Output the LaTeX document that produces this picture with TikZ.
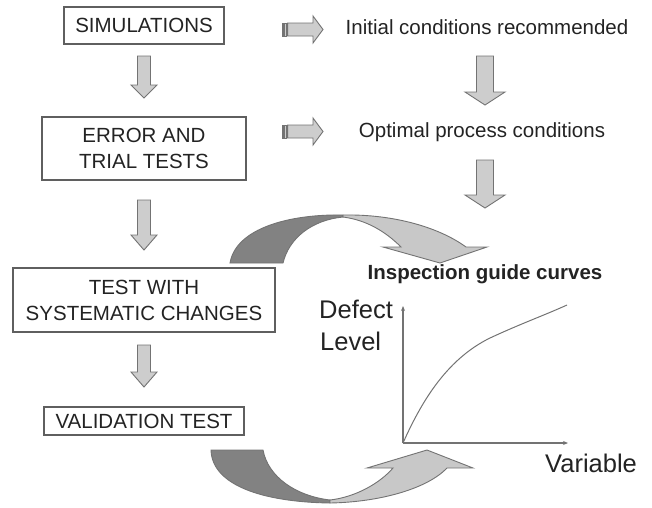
\documentclass[tikz,border=0pt]{standalone}
\usepackage{fontspec}
\setmainfont{Liberation Sans}
\usetikzlibrary{arrows.meta}

\definecolor{boxline}{RGB}{95,95,95}
\definecolor{arrowfill}{RGB}{205,205,205}
\definecolor{arrowline}{RGB}{115,115,115}
\definecolor{darkband}{RGB}{130,130,130}
\definecolor{lightband}{RGB}{200,200,200}
\definecolor{inkgray}{RGB}{35,35,35}

% vertical block arrow: centre x, top, head start, tip, half shaft, half head
\newcommand\blockdown[6]{%
  \draw[blockarrow] ({#1-#5},#2) -- ({#1+#5},#2) -- ({#1+#5},#3) -- ({#1+#6},#3)
    -- (#1,#4) -- ({#1-#6},#3) -- ({#1-#5},#3) -- cycle;}
% small striped block arrow pointing right: centre y
\newcommand\stripedright[1]{%
  \draw[blockarrow] (282,{#1-6.5}) rectangle (283.6,{#1+6.5});
  \draw[blockarrow] (284.8,{#1-6.5}) rectangle (286.4,{#1+6.5});
  \draw[blockarrow] (287.6,{#1-6.5}) -- (313,{#1-6.5}) -- (313,{#1-13.5}) -- (323,#1)
    -- (313,{#1+13.5}) -- (313,{#1+6.5}) -- (287.6,{#1+6.5}) -- cycle;}

\tikzset{
  stagebox/.style={draw=boxline, line width=1.1pt, fill=white, inner sep=0pt,
    align=center, text=inkgray, font=\fontsize{20.5}{26}\selectfont},
  blockarrow/.style={fill=arrowfill, draw=arrowline, line width=0.9pt, line join=miter},
  plain/.style={text=inkgray, inner sep=0pt, font=\fontsize{20.5}{26}\selectfont},
  axislabel/.style={text=inkgray, inner sep=0pt, anchor=base west, font=\fontsize{25.5}{32}\selectfont},
  axis/.style={draw=arrowline, line width=1.1pt, -{Stealth[length=5pt,width=4pt]}},
}

\begin{document}
\begin{tikzpicture}[x=1pt, y=-1pt]
\useasboundingbox (0,0) rectangle (652,507);

% process stages
\node[stagebox, minimum width=160pt, minimum height=37pt] (sim) at (144,25.5) {SIMULATIONS};
\node[stagebox, minimum width=204pt, minimum height=63pt] (err) at (144,148.5) {ERROR AND\\TRIAL TESTS};
\node[stagebox, minimum width=262pt, minimum height=64pt] (sys) at (144,300) {TEST WITH\\SYSTEMATIC CHANGES};
\node[stagebox, minimum width=200pt, minimum height=28pt] (val) at (144,421) {VALIDATION TEST};

% flow between stages
\blockdown{144}{56}{85}{98}{6.5}{13}
\blockdown{144}{200}{235}{250}{6.5}{13}
\blockdown{144}{345}{372}{387}{6.5}{13}

% outcomes
\node[plain] (init) at (487,27) {Initial conditions recommended};
\node[plain] (opt) at (482,132) {Optimal process conditions};
\stripedright{29.5}
\stripedright{131.5}
\blockdown{485}{56}{92}{105}{8.5}{20}
\blockdown{485}{160}{195}{208}{8.5}{20}

% upper curved arrow
\fill[darkband, draw=arrowline, line width=0.9pt]
  (230,263) .. controls (236,228) and (290,214) .. (343,215)
  -- (343,217) .. controls (312,220) and (289,238) .. (283,263) -- cycle;
\fill[lightband, draw=arrowline, line width=0.9pt, line join=miter]
  (343,215) .. controls (395,214) and (440,228) .. (466,247)
  -- (487,247) -- (440,263) -- (383,247) -- (401,247)
  .. controls (385,231) and (366,220) .. (343,217) -- cycle;

% lower curved arrow
\fill[darkband, draw=arrowline, line width=0.9pt]
  (211,450) -- (263,450) .. controls (268,477) and (296,496) .. (330,500)
  -- (330,503) .. controls (262,502) and (212,485) .. (211,450) -- cycle;
\fill[lightband, draw=arrowline, line width=0.9pt, line join=miter]
  (330,503) .. controls (382,502) and (428,488) .. (447,468)
  -- (473,468) -- (427,450) -- (367,468) -- (393,468)
  .. controls (380,483) and (356,497) .. (330,500) -- cycle;

% guide curve plot
\node[text=inkgray, inner sep=0pt, font=\bfseries\fontsize{20.5}{26}\selectfont] (guide) at (485,274.5) {Inspection guide curves};
\coordinate (O) at (403,443);
\coordinate (ytop) at (403,306);
\coordinate (xend) at (568,443);
\coordinate (cend) at (567,305);
\draw[axis] (O) -- (ytop);
\draw[axis] (O) -- (xend);
\draw[draw=arrowline, line width=1pt]
  (O) .. controls (420,405) and (445,360) .. (490,338)
  .. controls (520,324) and (545,315) .. (cend);
\node[axislabel] (defect) at (319,318) {Defect};
\node[axislabel] (level) at (320,350) {Level};
\node[axislabel] (variable) at (545,472) {Variable};
\end{tikzpicture}
\end{document}
